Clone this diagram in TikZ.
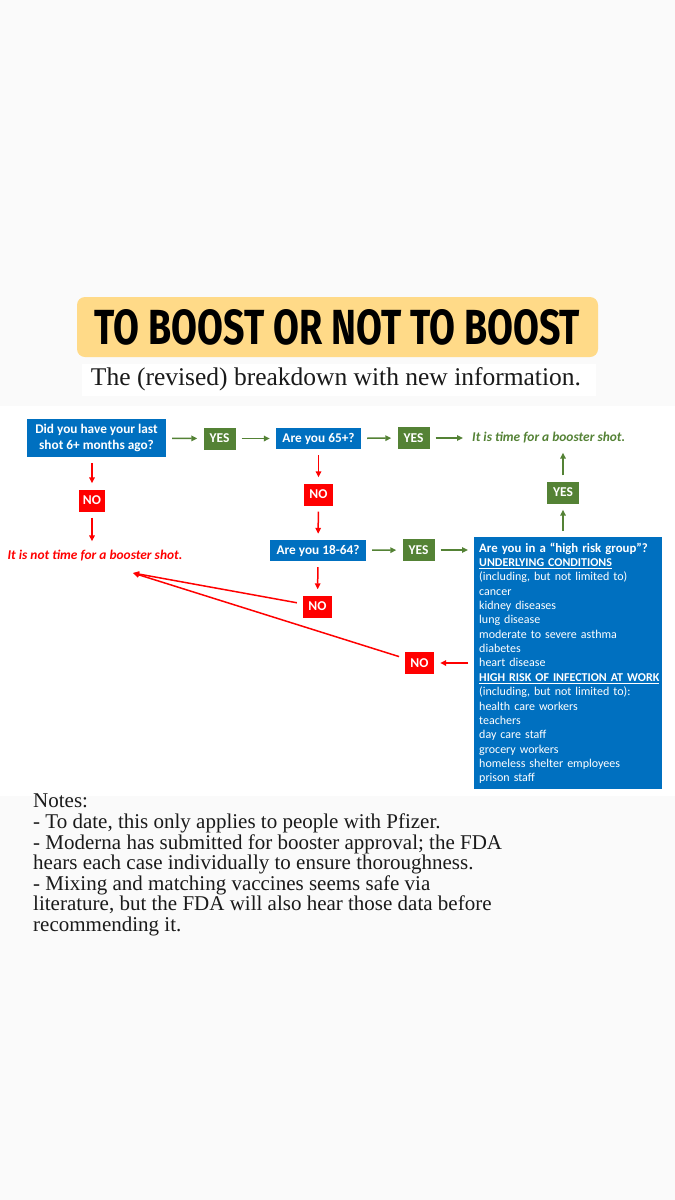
\documentclass[tikz,border=0pt]{standalone}
\usepackage{fontspec}
\setmainfont{Liberation Serif}
\newfontfamily\chartfont{Carlito}
\newfontfamily\bannerfont{Fira Sans}
\usetikzlibrary{arrows.meta}

\definecolor{qblue}{HTML}{0070C0}
\definecolor{yesgreen}{HTML}{548235}
\definecolor{nored}{HTML}{FF0000}
\definecolor{bannerbg}{HTML}{FFDA88}
\definecolor{paper}{HTML}{FAFAFA}
\definecolor{ink}{HTML}{1A1A1A}

\tikzset{
  question/.style={fill=qblue, text=white, align=center, inner sep=2pt,
    font=\chartfont\bfseries\fontsize{13.3}{16}\selectfont, minimum height=21pt},
  yesbox/.style={fill=yesgreen, text=white, inner sep=0pt,
    font=\chartfont\bfseries\fontsize{13.5}{15}\selectfont,
    minimum width=32pt, minimum height=22pt},
  nobox/.style={yesbox, fill=nored, minimum width=29pt},
  answer/.style={font=\chartfont\bfseries\itshape\fontsize{13.4}{16}\selectfont, inner sep=3pt},
  yesarrow/.style={draw=yesgreen, line width=1.5pt, -{Triangle[length=6pt,width=5.5pt]},
    shorten <=6pt, shorten >=6pt},
  noarrow/.style={yesarrow, draw=nored}
}

\begin{document}
\begin{tikzpicture}[x=1pt, y=-1pt]
\useasboundingbox[fill=paper] (0,0) rectangle (675,1200);
\fill[white] (0,406) rectangle (675,796);

% heading
\fill[bannerbg, rounded corners=8pt] (77,297) rectangle (598,357);
\node (title) at (337.5,327.5) {\resizebox{485pt}{35pt}{\bannerfont\bfseries TO BOOST OR NOT TO BOOST}};
\fill[white] (82,364) rectangle (596,396);
\node[font=\fontsize{25.5}{28}\selectfont, text=ink] (subtitle) at (336,379.5) {The (revised) breakdown with new information.};

% questions and answers
\node[question, minimum width=139pt, minimum height=38pt] (q1) at (96.5,438) {Did you have your last\\shot 6+ months ago?};
\node[yesbox] (yes1) at (219.5,438.5) {YES};
\node[question, minimum width=85pt] (q2) at (318.5,438.5) {Are you 65+?};
\node[yesbox] (yes2) at (413.5,438) {YES};
\node[answer, text=yesgreen, anchor=west] (timeyes) at (469,438) {It is time for a booster shot.};

\node[nobox, minimum width=26pt] (no1) at (92,500.5) {NO};
\node[answer, text=nored] (timeno) at (95,556) {It is not time for a booster shot.};
\coordinate (notip) at (133,573);

\node[nobox] (no2) at (318.5,494.5) {NO};
\node[question, minimum width=96pt] (q3) at (318,550.5) {Are you 18-64?};
\node[yesbox] (yes3) at (418.5,550) {YES};
\node[nobox] (no3) at (317.5,606.5) {NO};

\node[fill=qblue, text=white, anchor=north west, align=left, text width=178pt,
  inner xsep=5pt, inner ysep=5pt, minimum height=252pt,
  font=\chartfont\fontsize{12}{14.35}\selectfont] (risk) at (474,537) {%
  {\bfseries\fontsize{12.8}{14.35}\selectfont Are you in a \textquotedblleft high risk group\textquotedblright?}\\
  {\bfseries\underline{UNDERLYING CONDITIONS}}\\
  (including, but not limited to)\\
  cancer\\
  kidney diseases\\
  lung disease\\
  moderate to severe asthma\\
  diabetes\\
  heart disease\\
  {\bfseries\underline{HIGH RISK OF INFECTION AT WORK}}\\
  (including, but not limited to):\\
  health care workers\\
  teachers\\
  day care staff\\
  grocery workers\\
  homeless shelter employees\\
  prison staff};
\node[yesbox] (yes4) at (563,492.5) {YES};
\node[nobox] (no4) at (419.5,663) {NO};

% connectors
\draw[yesarrow] (q1) -- (yes1);
\draw[yesarrow] (yes1) -- (q2);
\draw[yesarrow] (q2) -- (yes2);
\draw[yesarrow] (yes2) -- (timeyes);
\draw[yesarrow] (q3) -- (yes3);
\draw[yesarrow] (yes3) -- (yes3 -| risk.west);
\draw[yesarrow] (yes4 |- risk.north) -- (yes4);
\draw[yesarrow] (yes4) -- (yes4 |- timeyes.south);

\draw[noarrow] (no1 |- q1.south) -- (no1);
\draw[noarrow] (no1) -- (no1 |- timeno.north);
\draw[noarrow] (q2) -- (no2);
\draw[noarrow] (no2) -- (q3);
\draw[noarrow] (q3) -- (no3);
\draw[noarrow] (no4 -| risk.west) -- (no4);
\draw[noarrow, shorten >=0pt] (no3) -- (notip);
\draw[noarrow, shorten >=0pt] (no4) -- (notip);

% notes
\node[anchor=north west, inner sep=0pt, align=left, text=ink,
  font=\fontsize{21}{20.6}\selectfont] (notes) at (33,794) {%
  Notes:\\
  - To date, this only applies to people with Pfizer.\\
  - Moderna has submitted for booster approval; the FDA\\
  hears each case individually to ensure thoroughness.\\
  - Mixing and matching vaccines seems safe via\\
  literature, but the FDA will also hear those data before\\
  recommending it.};
\end{tikzpicture}
\end{document}
